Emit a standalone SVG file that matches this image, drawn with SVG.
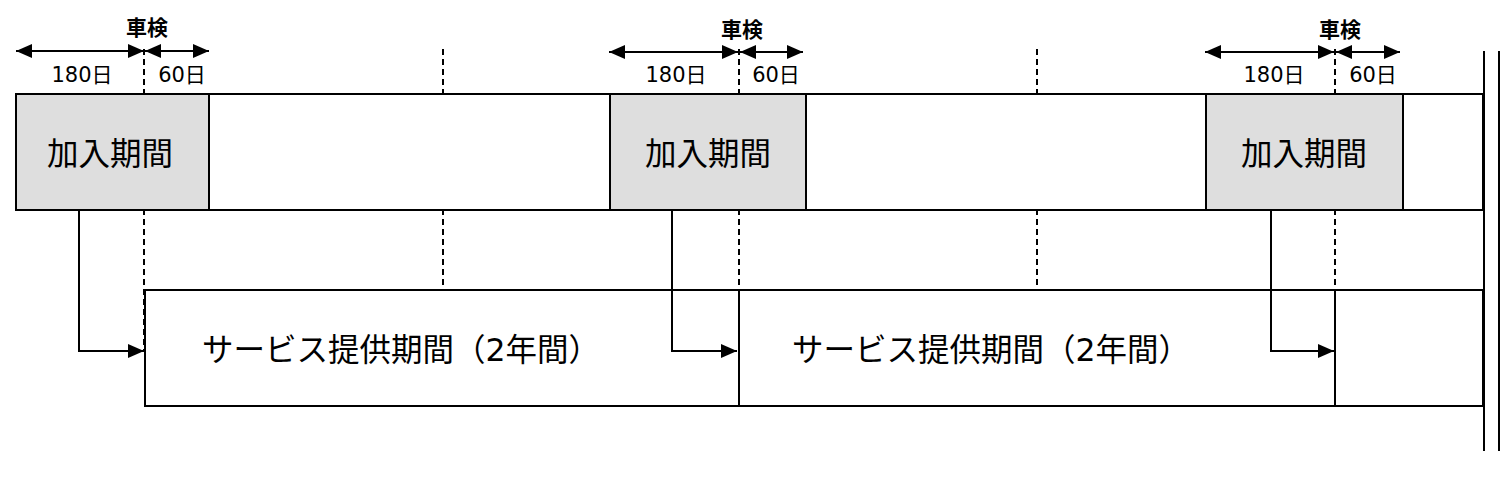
<svg xmlns="http://www.w3.org/2000/svg" width="1500" height="500" viewBox="0 0 1500 500">
<defs>
<marker id="ah" viewBox="0 0 16 14" refX="16" refY="7" markerWidth="16" markerHeight="14" markerUnits="userSpaceOnUse" orient="auto-start-reverse">
<path d="M0,0 L16,7 L0,14 Z" fill="#000"/>
</marker>
<style>
.ln{stroke:#000;stroke-width:2;fill:none}
.dash{stroke:#000;stroke-width:2;stroke-dasharray:6 4;fill:none}
.box{stroke:#000;stroke-width:2;fill:#fff}
.gray{stroke:#000;stroke-width:2;fill:#dedede}
.big{font-family:"DejaVu Sans","Noto Sans CJK JP",sans-serif;font-size:31.5px;fill:#000}
.sm{font-family:"DejaVu Sans","Noto Sans CJK JP",sans-serif;font-size:21px;fill:#000;text-anchor:middle}
.bold{font-family:"DejaVu Sans","Noto Sans CJK JP",sans-serif;font-size:21px;font-weight:bold;fill:#000;text-anchor:middle}
</style>
</defs>
<rect width="1500" height="500" fill="#fff"/>
<g id="guides">
<line class="dash" x1="144" y1="49" x2="144" y2="350"/>
<line class="dash" x1="443" y1="49" x2="443" y2="288"/>
<line class="dash" x1="739" y1="49" x2="739" y2="290"/>
<line class="dash" x1="1037" y1="49" x2="1037" y2="288"/>
<line class="dash" x1="1335" y1="49" x2="1335" y2="290"/>
</g>
<g id="top-bar">
<rect class="box" x="16" y="94" width="1467" height="116"/>
</g>
<g id="join1"><rect class="gray" x="16" y="94" width="193" height="116"/><text class="big" x="110" y="165" text-anchor="middle">加入期間</text></g>
<g id="join2"><rect class="gray" x="610" y="94" width="196" height="116"/><text class="big" x="708" y="165" text-anchor="middle">加入期間</text></g>
<g id="join3"><rect class="gray" x="1206" y="94" width="197" height="116"/><text class="big" x="1304" y="165" text-anchor="middle">加入期間</text></g>
<g id="service-bar">
<rect class="box" x="145" y="290" width="1338" height="116"/>
<line class="ln" x1="739" y1="290" x2="739" y2="406"/>
<line class="ln" x1="1335" y1="290" x2="1335" y2="406"/>
</g>
<g id="service1"><text class="big" x="202" y="361">サービス提供期間（2年間）</text></g>
<g id="service2"><text class="big" x="792" y="361">サービス提供期間（2年間）</text></g>
<g id="edge">
<line class="ln" x1="1484" y1="51" x2="1484" y2="451"/>
<line class="ln" x1="1499" y1="51" x2="1499" y2="451"/>
</g>
<g id="inspection1">
<text class="bold" x="147" y="35">車検</text>
<text class="sm" x="82" y="82">180日</text>
<text class="sm" x="182" y="82">60日</text>
</g>
<g id="inspection2">
<text class="bold" x="742" y="37">車検</text>
<text class="sm" x="676" y="82">180日</text>
<text class="sm" x="776" y="82">60日</text>
</g>
<g id="inspection3">
<text class="bold" x="1340" y="37">車検</text>
<text class="sm" x="1274" y="82">180日</text>
<text class="sm" x="1373" y="82">60日</text>
</g>
<g id="connectors">
<line class="ln" x1="16" y1="51" x2="144" y2="51" marker-start="url(#ah)" marker-end="url(#ah)"/>
<line class="ln" x1="145" y1="51" x2="209" y2="51" marker-start="url(#ah)" marker-end="url(#ah)"/>
<line class="ln" x1="609" y1="52" x2="738" y2="52" marker-start="url(#ah)" marker-end="url(#ah)"/>
<line class="ln" x1="740" y1="52" x2="803" y2="52" marker-start="url(#ah)" marker-end="url(#ah)"/>
<line class="ln" x1="1205" y1="52" x2="1334" y2="52" marker-start="url(#ah)" marker-end="url(#ah)"/>
<line class="ln" x1="1336" y1="52" x2="1400" y2="52" marker-start="url(#ah)" marker-end="url(#ah)"/>
<path class="ln" d="M79,210 V351 H144" marker-end="url(#ah)"/>
<path class="ln" d="M672,210 V351 H737" marker-end="url(#ah)"/>
<path class="ln" d="M1271,210 V351 H1334" marker-end="url(#ah)"/>
</g>
</svg>
